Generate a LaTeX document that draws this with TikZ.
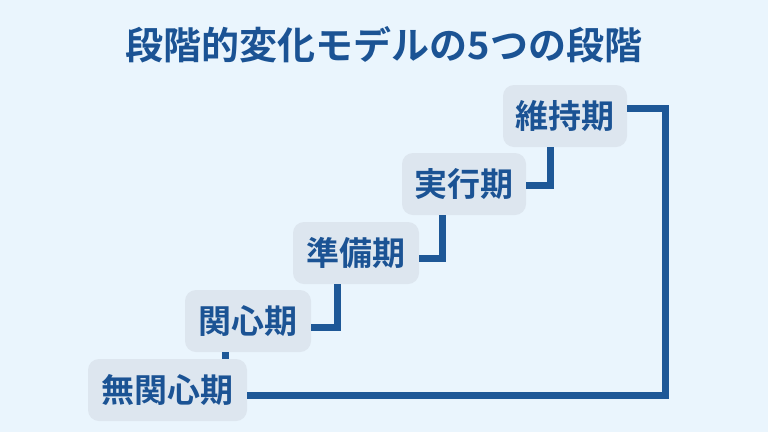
\documentclass[tikz,border=0pt]{standalone}
\usepackage{fontspec}
\newfontfamily\jp{Noto Sans CJK JP Bold}
\begin{document}
\begin{tikzpicture}[x=1pt,y=-1pt,
  box/.style={fill=boxc,rounded corners=11pt,minimum height=62pt,inner sep=0pt,text=dblue,font=\jp\fontsize{33}{36}\selectfont},
  conn/.style={draw=lblue,line width=7pt}]
\definecolor{bg}{HTML}{EAF5FD}
\definecolor{boxc}{HTML}{DDE6EF}
\definecolor{dblue}{HTML}{1B5394}
\definecolor{lblue}{HTML}{1E5897}
\fill[bg] (0,0) rectangle (768,432);
\useasboundingbox (0,0) rectangle (768,432);
\node[font=\jp\fontsize{38}{42}\selectfont,text=dblue] (title) at (384,45) {段階的変化モデルの5つの段階};
\node[box,minimum width=159pt] (A) at (167.5,390) {無関心期};
\node[box,minimum width=126pt] (B) at (248,321) {関心期};
\node[box,minimum width=126pt] (C) at (356,253) {準備期};
\node[box,minimum width=124pt] (D) at (464,184) {実行期};
\node[box,minimum width=124pt] (E) at (565,116) {維持期};
\coordinate (c1) at (337,327);
\coordinate (c2) at (442,258);
\coordinate (c3) at (550,185);
\coordinate (c4) at (665,108);
\coordinate (c5) at (665,395);
\draw[conn] (B.east |- c1) -- (c1) -- (c1 |- C.south);
\draw[conn] (C.east |- c2) -- (c2) -- (c2 |- D.south);
\draw[conn] (D.east |- c3) -- (c3) -- (c3 |- E.south);
\draw[conn,line join=miter] (E.east |- c4) -- (c4) -- (c5) -- (A.east |- c5);
\draw[conn] (225,352) -- (225,359);
\end{tikzpicture}
\end{document}
